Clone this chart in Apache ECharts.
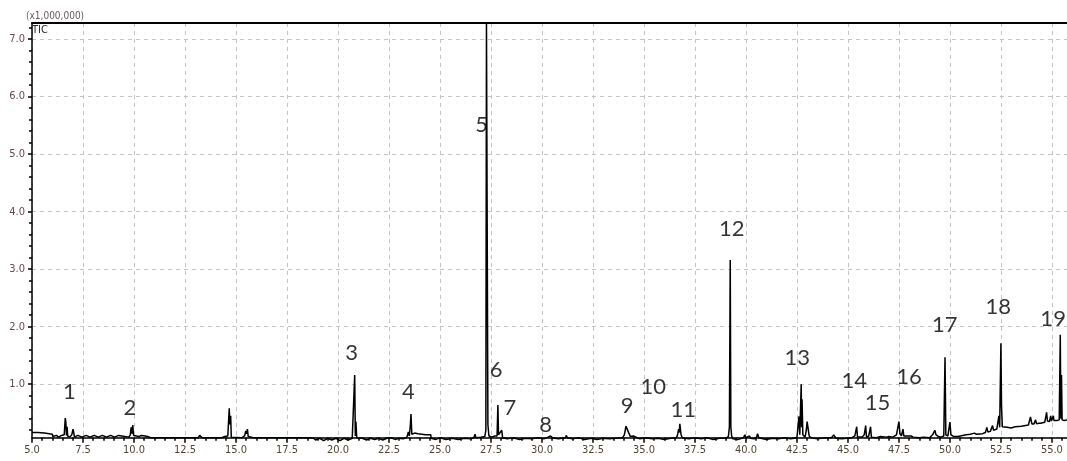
<!DOCTYPE html>
<html>
<head>
<meta charset="utf-8">
<script src="https://cdn.jsdelivr.net/npm/echarts@6/dist/echarts.min.js"></script>
<style>
  html, body { margin: 0; padding: 0; background: #ffffff; }
  #chart { width: 1067px; height: 461px; }
</style>
</head>
<body>
<div id="chart"></div>
<script>
// Total ion chromatogram, retention time (min) vs. intensity (x1,000,000)
const traceEarly = [
  [5.00,0.16],[5.04,0.17],[5.30,0.16],[5.32,0.13],[5.60,0.15],[5.62,0.13],[6.00,0.13],[6.02,0.09],
  [6.20,0.11],[6.30,0.08],[6.45,0.11],[6.52,0.09],[6.58,0.12],[6.63,0.41],[6.66,0.34],[6.69,0.11],
  [6.72,0.26],[6.75,0.10],[6.85,0.08],[6.95,0.12],[7.01,0.22],[7.04,0.17],[7.08,0.08],[7.25,0.11],
  [7.45,0.08],[7.65,0.11],[7.85,0.08],[8.05,0.11],[8.25,0.08],[8.45,0.11],[8.65,0.08],[8.85,0.11],
  [9.05,0.08],[9.25,0.11],[9.32,0.08],[9.75,0.08],[9.82,0.12],[9.86,0.25],[9.90,0.14],[9.94,0.29],
  [9.98,0.11],[10.05,0.09],[10.25,0.09],[10.35,0.11],[10.40,0.09],[10.55,0.10],[10.62,0.12],[10.66,0.09],
  [10.75,0.11],[10.82,0.07],[11.50,0.07],[12.40,0.07],[13.15,0.07],[13.22,0.11],[13.30,0.10],[13.35,0.07],
  [14.30,0.07],[14.45,0.09],[14.52,0.12],[14.60,0.10],[14.67,0.58],[14.70,0.30],[14.74,0.45],[14.77,0.08],
  [15.30,0.07],[15.42,0.10],[15.48,0.19],[15.52,0.14],[15.56,0.22],[15.60,0.09],[15.66,0.07],[15.85,0.07],
  [15.88,0.10],[15.92,0.07],[16.55,0.07],[16.58,0.10],[16.62,0.07],[17.50,0.07],[18.60,0.07],[18.80,0.06],
  [18.90,0.03],[19.10,0.06],[19.30,0.02],[19.50,0.06],[19.70,0.03],[19.90,0.06],[20.10,0.02],[20.30,0.06],
  [20.50,0.03],[20.70,0.06]
];

const traceMid = [
  [20.77,0.09],[20.82,1.16],[20.85,0.10],[20.88,0.35],[20.92,0.07],[21.00,0.04],[21.20,0.06],[21.40,0.03],
  [21.60,0.06],[21.80,0.04],[22.00,0.06],[22.20,0.03],[22.40,0.06],[22.60,0.07],[22.80,0.04],[23.00,0.06],
  [23.20,0.05],[23.38,0.08],[23.45,0.17],[23.50,0.10],[23.55,0.30],[23.58,0.48],[23.62,0.13],[23.68,0.11],
  [23.76,0.15],[23.84,0.12],[23.92,0.14],[24.00,0.12],[24.30,0.12],[24.55,0.12],[24.57,0.06],[24.80,0.04],
  [25.00,0.07],[25.30,0.04],[25.60,0.06],[25.90,0.04],[26.20,0.06],[26.50,0.05],[26.66,0.07],[26.72,0.13],
  [26.76,0.07],[27.00,0.08],[27.20,0.09],[27.25,0.20],[27.28,7.28],[27.32,7.28],[27.35,0.30],[27.40,0.10],
  [27.48,0.12],[27.55,0.08],[27.68,0.10],[27.74,0.08],[27.80,0.10],[27.84,0.64],[27.87,0.12],[27.95,0.13],
  [28.03,0.20],[28.07,0.07],[28.30,0.05],[28.60,0.07],[28.90,0.04],[29.20,0.06],[29.50,0.05],[29.80,0.07],
  [30.10,0.05],[30.30,0.08],[30.36,0.11],[30.42,0.10],[30.48,0.12],[30.52,0.07],[30.80,0.05],[31.15,0.07],
  [31.20,0.11],[31.24,0.07],[31.50,0.05],[31.80,0.07],[32.10,0.04],[32.40,0.06],[32.70,0.04],[33.00,0.06],
  [33.30,0.05],[33.60,0.06],[33.95,0.07],[34.04,0.12],[34.12,0.27],[34.19,0.21],[34.27,0.14],[34.34,0.09],
  [34.42,0.07],[34.48,0.10],[34.52,0.07],[34.80,0.05]
];

const traceLate = [
  [35.10,0.07],[35.40,0.05],[35.70,0.06],[36.00,0.04],[36.30,0.06],[36.60,0.07],[36.66,0.14],[36.70,0.22],
  [36.73,0.16],[36.76,0.31],[36.82,0.12],[36.88,0.07],[37.20,0.05],[37.50,0.07],[37.80,0.05],[38.10,0.07],
  [38.40,0.04],[38.70,0.06],[39.00,0.06],[39.14,0.09],[39.19,0.26],[39.23,3.16],[39.26,0.26],[39.30,0.10],
  [39.36,0.05],[39.60,0.04],[39.88,0.07],[39.95,0.12],[39.99,0.07],[40.18,0.10],[40.23,0.06],[40.40,0.05],
  [40.52,0.08],[40.57,0.14],[40.63,0.07],[41.00,0.04],[41.30,0.06],[41.60,0.05],[41.90,0.07],[42.20,0.05],
  [42.50,0.07],[42.56,0.10],[42.60,0.44],[42.64,0.12],[42.71,1.00],[42.73,0.25],[42.75,0.74],[42.79,0.12],
  [42.90,0.08],[42.96,0.20],[43.00,0.35],[43.06,0.35],[43.10,0.10],[43.20,0.07],[43.50,0.05],[43.90,0.07],
  [44.20,0.07],[44.30,0.12],[44.36,0.10],[44.42,0.06],[44.70,0.05],[45.20,0.07],[45.34,0.10],[45.43,0.26],
  [45.47,0.08],[45.70,0.08],[45.80,0.12],[45.87,0.28],[45.91,0.08],[46.02,0.10],[46.11,0.26],[46.15,0.08],
  [46.40,0.07],[46.60,0.09],[46.65,0.07],[46.90,0.08],[47.00,0.09],[47.20,0.08],[47.38,0.12],[47.50,0.35],
  [47.55,0.14],[47.62,0.10],[47.70,0.22],[47.74,0.10],[47.85,0.10],[47.92,0.09],[48.10,0.10],[48.20,0.08],
  [48.50,0.07],[48.70,0.08],[49.00,0.07],[49.15,0.12],[49.26,0.20],[49.32,0.12],[49.45,0.09],[49.55,0.08],
  [49.70,0.10],[49.76,1.47],[49.80,0.12],[49.90,0.10],[50.00,0.34],[50.05,0.12],[50.20,0.09],[50.39,0.09],
  [50.42,0.12],[50.80,0.12],[50.85,0.14],[51.00,0.13],[51.20,0.15],[51.30,0.13],[51.60,0.14],[51.74,0.16],
  [51.81,0.25],[51.86,0.17],[51.98,0.18],[52.09,0.28],[52.14,0.20],[52.30,0.22],[52.40,0.45],[52.44,0.25],
  [52.48,0.28],[52.50,1.71],[52.53,0.61],[52.57,0.26],[52.80,0.25],[53.00,0.24],[53.20,0.26],[53.50,0.27],
  [53.85,0.29],[53.95,0.43],[54.02,0.31],[54.12,0.31],[54.20,0.38],[54.25,0.31],[54.35,0.32],[54.40,0.35],
  [54.45,0.32],[54.65,0.34],[54.74,0.51],[54.78,0.36],[54.88,0.35],[54.94,0.45],[54.98,0.36],[55.03,0.36],
  [55.07,0.45],[55.10,0.37],[55.25,0.37],[55.30,0.38],[55.36,0.38],[55.41,1.86],[55.44,0.40],[55.47,1.16],
  [55.50,0.38],[55.60,0.37],[55.75,0.38]
];

// Peak numbers and where their labels sit (retention time, intensity)
const peakNumbers    = ['1','2','3','4','5','6','7','8','9','10','11','12','13','14','15','16','17','18','19'];
const peakLabelTime  = [6.83, 9.80, 20.67, 23.45, 27.04, 27.75, 28.43, 30.18, 34.18, 35.46, 36.93, 39.31, 42.52, 45.31, 46.45, 47.99, 49.75, 52.37, 55.06];
const peakLabelLevel = [0.87, 0.58, 1.54, 0.87, 5.51, 1.25, 0.58, 0.29, 0.62, 0.96, 0.55, 3.70, 1.45, 1.05, 0.67, 1.12, 2.03, 2.34, 2.14];

// Axis ranges and tick steps
const timeRange = [5.0, 55.74];
const timeMajorStep = 2.5;
const timeMinorStep = 0.5;
const levelRange = [0.07, 7.28];
const levelMinorStep = 0.2;

const trace = traceEarly.concat(traceMid, traceLate);
const labelPoints = peakNumbers.map((n, i) => [peakLabelTime[i], peakLabelLevel[i], n]);

const timeMinorTicks = [];
for (let t = timeRange[0] + timeMinorStep; t < timeRange[1]; t += timeMinorStep) {
  const v = Math.round(t * 10) / 10;
  if (Math.abs(v / timeMajorStep - Math.round(v / timeMajorStep)) > 1e-6) timeMinorTicks.push(v);
}
const levelMinorTicks = [];
for (let y = levelMinorStep; y < levelRange[1]; y += levelMinorStep) {
  const v = Math.round(y * 10) / 10;
  if (Math.abs(v - Math.round(v)) > 1e-6) levelMinorTicks.push(v);
}

const labelFont = "'Liberation Sans Narrow', 'DejaVu Sans Condensed', sans-serif";
const gridLine = { show: true, lineStyle: { color: '#c4c4c4', type: [4, 4], width: 1 } };

const chart = echarts.init(document.getElementById('chart'), null, { renderer: 'canvas' });
chart.setOption({
  animation: false,
  backgroundColor: '#ffffff',
  grid: { left: 32, right: 0, top: 23, bottom: 23.3, containLabel: false },
  xAxis: [
    {
      type: 'value', position: 'bottom',
      min: timeRange[0], max: timeRange[1], interval: timeMajorStep,
      axisLine: { show: true, lineStyle: { color: '#000', width: 1.5 } },
      axisTick: { show: true, length: 5, lineStyle: { color: '#000', width: 1.5 } },
      axisLabel: {
        show: true, margin: 7, color: '#54442f', fontSize: 11, fontFamily: labelFont,
        showMaxLabel: false,
        formatter: v => (Math.abs(v / timeMajorStep - Math.round(v / timeMajorStep)) < 1e-6 ? v.toFixed(1) : '')
      },
      splitLine: gridLine
    },
    {
      type: 'value', position: 'bottom',
      min: timeRange[0], max: timeRange[1],
      axisLine: { show: false },
      axisTick: { show: true, length: 3, customValues: timeMinorTicks, lineStyle: { color: '#000', width: 1.5 } },
      axisLabel: { show: false },
      splitLine: { show: false }
    },
    {
      type: 'value', position: 'top',
      min: timeRange[0], max: timeRange[1],
      axisLine: { show: true, lineStyle: { color: '#000', width: 2 } },
      axisTick: { show: false },
      axisLabel: { show: false },
      splitLine: { show: false }
    }
  ],
  yAxis: [
    {
      type: 'value', position: 'left',
      min: levelRange[0], max: levelRange[1], splitNumber: 7,
      axisLine: { show: true, lineStyle: { color: '#000', width: 1.5 } },
      axisTick: { show: true, length: 4, lineStyle: { color: '#000', width: 1.5 } },
      axisLabel: {
        show: true, margin: 7, color: '#6a4654', fontSize: 11, fontFamily: labelFont,
        showMinLabel: false, showMaxLabel: false,
        formatter: v => (Math.abs(v - Math.round(v)) < 1e-6 ? v.toFixed(1) : '')
      },
      splitLine: gridLine
    },
    {
      type: 'value', position: 'left',
      min: levelRange[0], max: levelRange[1],
      axisLine: { show: false },
      axisTick: { show: true, length: 3, customValues: levelMinorTicks, lineStyle: { color: '#000', width: 1.5 } },
      axisLabel: { show: false },
      splitLine: { show: false }
    }
  ],
  graphic: [
    { type: 'text', left: 26, top: 11, style: { text: '(x1,000,000)', fill: '#6a5860', font: "10px " + labelFont } },
    { type: 'text', left: 32, top: 25, style: { text: 'TIC', fill: '#222222', font: "11px " + labelFont } }
  ],
  series: [
    {
      type: 'line',
      name: 'TIC',
      xAxisIndex: 0, yAxisIndex: 0,
      data: trace,
      symbol: 'none',
      clip: false,
      lineStyle: { color: '#000000', width: 1.5 },
      z: 3
    },
    {
      type: 'scatter',
      xAxisIndex: 0, yAxisIndex: 0,
      data: labelPoints,
      symbolSize: 1,
      itemStyle: { color: 'rgba(0,0,0,0)' },
      clip: false,
      label: {
        show: true, position: 'inside',
        formatter: p => p.value[2],
        color: '#000000', fontSize: 22, fontFamily: "Lato, 'Open Sans', sans-serif"
      },
      z: 4
    }
  ]
});
</script>
</body>
</html>
